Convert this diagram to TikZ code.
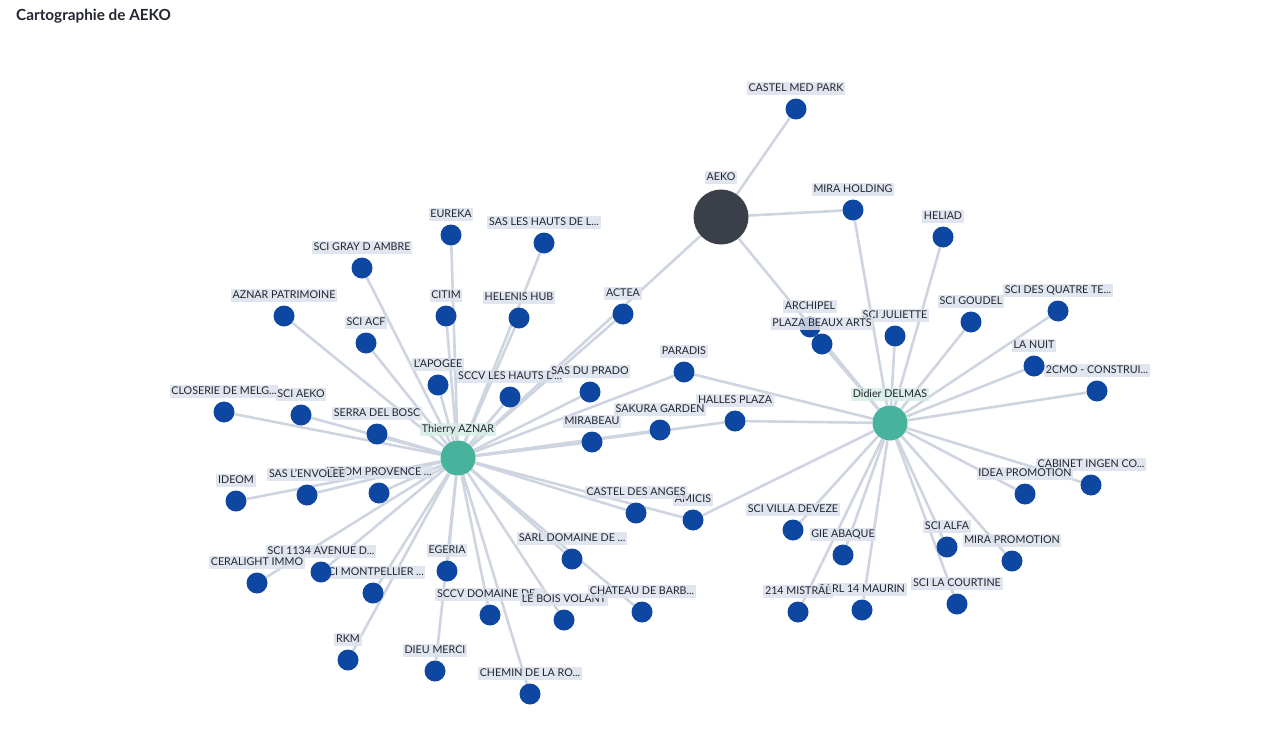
\documentclass[tikz,border=0pt]{standalone}
\usepackage{fontspec}
\setmainfont{Lato}
\usetikzlibrary{positioning,backgrounds}
\definecolor{entblue}{HTML}{0D47A1}
\definecolor{persteal}{HTML}{47B39C}
\definecolor{rootgray}{HTML}{3B3F4A}
\definecolor{edgegray}{HTML}{CED5E1}
\definecolor{lblbg}{HTML}{DCE1EC}
\definecolor{perslblbg}{HTML}{D6ECE5}
\definecolor{txtdark}{HTML}{22262E}

\begin{document}
\begin{tikzpicture}[x=1pt,y=-1pt,
  ent/.style={circle,fill=entblue,minimum size=21pt,inner sep=0pt},
  pers/.style={circle,fill=persteal,minimum size=35pt,inner sep=0pt},
  root/.style={circle,fill=rootgray,minimum size=55pt,inner sep=0pt},
  lbl/.style={fill=lblbg,fill opacity=0.85,text opacity=1,text=txtdark,inner sep=1.7pt,
    text height=7.9pt,text depth=2pt,font=\fontsize{10.7}{11}\selectfont},
  perslbl/.style={lbl,fill=perslblbg},
  edge/.style={draw=edgegray,line width=2.6pt}]
\useasboundingbox (0,0) rectangle (1280,731);

\node[anchor=west,inner sep=0pt,text=txtdark,font=\bfseries\fontsize{15.3}{17}\selectfont] (title) at (16,16) {Cartographie de AEKO};

% hubs
\node[root] (aeko) at (721,217) {};
\node[lbl] (l-aeko) at (aeko) [above=33pt] {AEKO};
\node[pers] (ta) at (458,458) {};
\node[perslbl] (l-ta) at (ta) [above=22pt] {Thierry AZNAR};
\node[pers] (dd) at (890,423) {};
\node[perslbl] (l-dd) at (dd) [above=22pt] {Didier DELMAS};

% companies
\node[ent] (castelmed) at (796,109) {}; \node[lbl] (l-castelmed) at (castelmed) [above=14pt] {CASTEL MED PARK};
\node[ent] (mirahold) at (853,210) {}; \node[lbl] (l-mirahold) at (mirahold) [above=14pt] {MIRA HOLDING};
\node[ent] (heliad) at (943,237) {}; \node[lbl] (l-heliad) at (heliad) [above=14pt] {HELIAD};
\node[ent] (eureka) at (451,235) {}; \node[lbl] (l-eureka) at (eureka) [above=14pt] {EUREKA};
\node[ent] (sashauts) at (544,243) {}; \node[lbl] (l-sashauts) at (sashauts) [above=14pt] {SAS LES HAUTS DE L...};
\node[ent] (gray) at (362,268) {}; \node[lbl] (l-gray) at (gray) [above=14pt] {SCI GRAY D AMBRE};
\node[ent] (aznarpat) at (284,316) {}; \node[lbl] (l-aznarpat) at (aznarpat) [above=14pt] {AZNAR PATRIMOINE};
\node[ent] (citim) at (446,316) {}; \node[lbl] (l-citim) at (citim) [above=14pt] {CITIM};
\node[ent] (helenis) at (519,318) {}; \node[lbl] (l-helenis) at (helenis) [above=14pt] {HELENIS HUB};
\node[ent] (actea) at (623,314) {}; \node[lbl] (l-actea) at (actea) [above=14pt] {ACTEA};
\node[ent] (sciacf) at (366,343) {}; \node[lbl] (l-sciacf) at (sciacf) [above=14pt] {SCI ACF};
\node[ent] (archipel) at (810,327) {}; \node[lbl] (l-archipel) at (archipel) [above=14pt] {ARCHIPEL};
\node[ent] (juliette) at (895,336) {}; \node[lbl] (l-juliette) at (juliette) [above=14pt] {SCI JULIETTE};
\node[ent] (plaza) at (822,344) {}; \node[lbl] (l-plaza) at (plaza) [above=14pt] {PLAZA BEAUX ARTS};
\node[ent] (goudel) at (971,322) {}; \node[lbl] (l-goudel) at (goudel) [above=14pt] {SCI GOUDEL};
\node[ent] (quatre) at (1058,311) {}; \node[lbl] (l-quatre) at (quatre) [above=14pt] {SCI DES QUATRE TE...};
\node[ent] (cmo) at (1097,391) {}; \node[lbl] (l-cmo) at (cmo) [above=14pt] {2CMO - CONSTRUI...};
\node[ent] (lanuit) at (1034,366) {}; \node[lbl] (l-lanuit) at (lanuit) [above=14pt] {LA NUIT};
\node[ent] (paradis) at (684,372) {}; \node[lbl] (l-paradis) at (paradis) [above=14pt] {PARADIS};
\node[ent] (apogee) at (438,385) {}; \node[lbl] (l-apogee) at (apogee) [above=14pt] {L'APOGEE};
\node[ent] (sccvhauts) at (510,397) {}; \node[lbl] (l-sccvhauts) at (sccvhauts) [above=14pt] {SCCV LES HAUTS D...};
\node[ent] (prado) at (590,392) {}; \node[lbl] (l-prado) at (prado) [above=14pt] {SAS DU PRADO};
\node[ent] (closerie) at (224,412) {}; \node[lbl] (l-closerie) at (closerie) [above=14pt] {CLOSERIE DE MELG...};
\node[ent] (sciaeko) at (301,415) {}; \node[lbl] (l-sciaeko) at (sciaeko) [above=14pt] {SCI AEKO};
\node[ent] (serra) at (377,434) {}; \node[lbl] (l-serra) at (serra) [above=14pt] {SERRA DEL BOSC};
\node[ent] (mirabeau) at (592,442) {}; \node[lbl] (l-mirabeau) at (mirabeau) [above=14pt] {MIRABEAU};
\node[ent] (halles) at (735,421) {}; \node[lbl] (l-halles) at (halles) [above=14pt] {HALLES PLAZA};
\node[ent] (sakura) at (660,430) {}; \node[lbl] (l-sakura) at (sakura) [above=14pt] {SAKURA GARDEN};
\node[ent] (ideom) at (236,501) {}; \node[lbl] (l-ideom) at (ideom) [above=14pt] {IDEOM};
\node[ent] (ideomprov) at (379,493) {}; \node[lbl] (l-ideomprov) at (ideomprov) [above=14pt] {IDEOM PROVENCE ...};
\node[ent] (envolee) at (307,495) {}; \node[lbl] (l-envolee) at (envolee) [above=14pt] {SAS L'ENVOLEE};
\node[ent] (amicis) at (693,520) {}; \node[lbl] (l-amicis) at (amicis) [above=14pt] {AMICIS};
\node[ent] (anges) at (636,513) {}; \node[lbl] (l-anges) at (anges) [above=14pt] {CASTEL DES ANGES};
\node[ent] (cabinet) at (1091,485) {}; \node[lbl] (l-cabinet) at (cabinet) [above=14pt] {CABINET INGEN CO...};
\node[ent] (idea) at (1025,494) {}; \node[lbl] (l-idea) at (idea) [above=14pt] {IDEA PROMOTION};
\node[ent] (villa) at (793,530) {}; \node[lbl] (l-villa) at (villa) [above=14pt] {SCI VILLA DEVEZE};
\node[ent] (abaque) at (843,555) {}; \node[lbl] (l-abaque) at (abaque) [above=14pt] {GIE ABAQUE};
\node[ent] (alfa) at (947,547) {}; \node[lbl] (l-alfa) at (alfa) [above=14pt] {SCI ALFA};
\node[ent] (mirapromo) at (1012,561) {}; \node[lbl] (l-mirapromo) at (mirapromo) [above=14pt] {MIRA PROMOTION};
\node[ent] (sarldom) at (572,559) {}; \node[lbl] (l-sarldom) at (sarldom) [above=14pt] {SARL DOMAINE DE ...};
\node[ent] (egeria) at (447,571) {}; \node[lbl] (l-egeria) at (egeria) [above=14pt] {EGERIA};
\node[ent] (montp) at (373,593) {}; \node[lbl] (l-montp) at (montp) [above=14pt] {SCI MONTPELLIER ...};
\node[ent] (avenue) at (321,572) {}; \node[lbl] (l-avenue) at (avenue) [above=14pt] {SCI 1134 AVENUE D...};
\node[ent] (ceralight) at (257,583) {}; \node[lbl] (l-ceralight) at (ceralight) [above=14pt] {CERALIGHT IMMO};
\node[ent] (sccvdom) at (490,615) {}; \node[lbl] (l-sccvdom) at (sccvdom) [above=14pt] {SCCV DOMAINE DE...};
\node[ent] (bois) at (564,620) {}; \node[lbl] (l-bois) at (bois) [above=14pt] {LE BOIS VOLANT};
\node[ent] (chateau) at (642,612) {}; \node[lbl] (l-chateau) at (chateau) [above=14pt] {CHATEAU DE BARB...};
\node[ent] (maurin) at (862,610) {}; \node[lbl] (l-maurin) at (maurin) [above=14pt] {SARL 14 MAURIN};
\node[ent] (mistral) at (798,612) {}; \node[lbl] (l-mistral) at (mistral) [above=14pt] {214 MISTRAL};
\node[ent] (courtine) at (957,604) {}; \node[lbl] (l-courtine) at (courtine) [above=14pt] {SCI LA COURTINE};
\node[ent] (rkm) at (348,660) {}; \node[lbl] (l-rkm) at (rkm) [above=14pt] {RKM};
\node[ent] (dieu) at (435,671) {}; \node[lbl] (l-dieu) at (dieu) [above=14pt] {DIEU MERCI};
\node[ent] (chemin) at (530,694) {}; \node[lbl] (l-chemin) at (chemin) [above=14pt] {CHEMIN DE LA RO...};

% links
\begin{pgfonlayer}{background}
\foreach \n in {castelmed,mirahold,ta,dd} {
\draw[edge] (aeko) -- (\n);
}
\foreach \n in {eureka,sashauts,gray,aznarpat,citim,helenis,actea,sciacf,apogee,sccvhauts,prado,paradis,closerie,sciaeko,serra,mirabeau,sakura,halles,ideom,envolee,ideomprov,anges,amicis,sarldom,chateau,egeria,dieu,avenue,ceralight,montp,sccvdom,bois,chemin,rkm} {
\draw[edge] (ta) -- (\n);
}
\foreach \n in {mirahold,heliad,archipel,plaza,juliette,goudel,quatre,lanuit,cmo,paradis,halles,amicis,idea,cabinet,villa,abaque,alfa,mirapromo,mistral,maurin,courtine} {
\draw[edge] (dd) -- (\n);
}
\end{pgfonlayer}
\end{tikzpicture}
\end{document}
